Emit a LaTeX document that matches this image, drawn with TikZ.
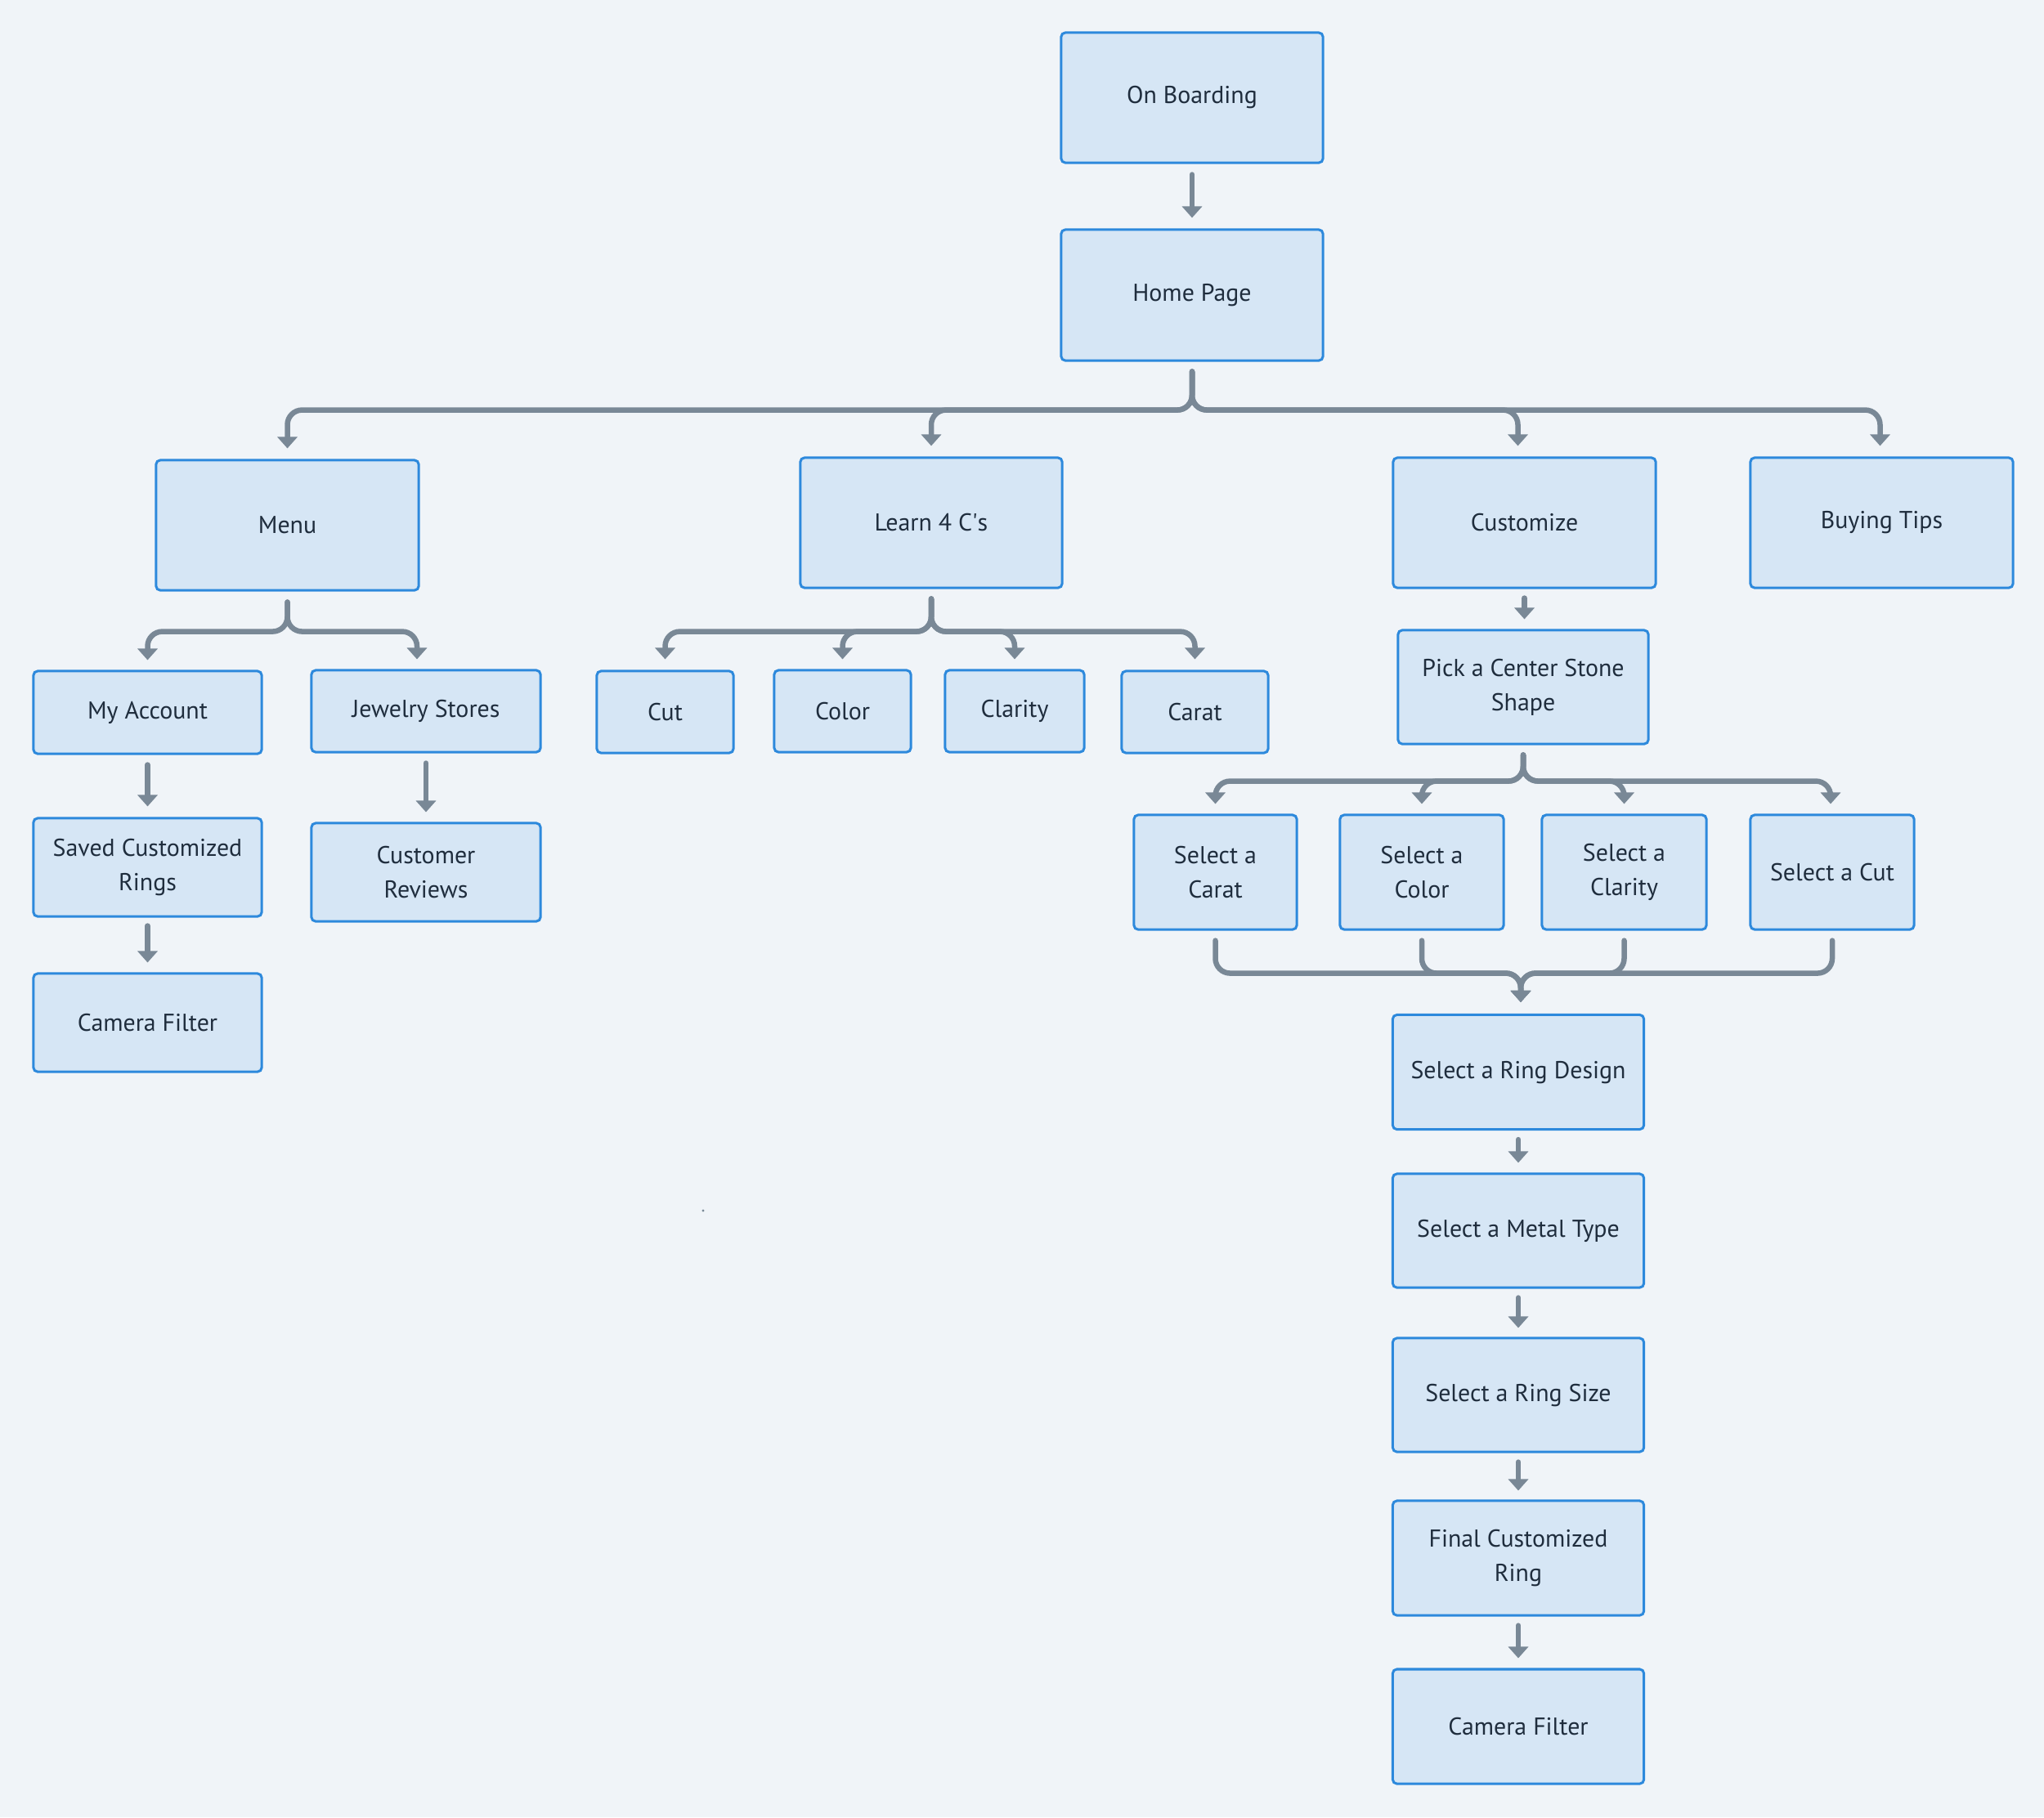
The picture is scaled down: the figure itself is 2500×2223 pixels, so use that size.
\documentclass[tikz,border=0pt]{standalone}
\usepackage{fontspec}
\setmainfont{PT Sans}
\usetikzlibrary{arrows.meta,calc}
\definecolor{bgc}{HTML}{F0F4F8}
\definecolor{boxfill}{HTML}{D6E6F5}
\definecolor{boxline}{HTML}{2D89DC}
\definecolor{conncol}{HTML}{798896}
\definecolor{txtcol}{HTML}{1F2D3D}
\tikzset{
  box/.style={draw=boxline, fill=boxfill, line width=0.03cm, rounded corners=0.05cm,
    inner sep=0pt, align=center, text=txtcol,
    font=\fontsize{8.5}{12}\selectfont},
  arr/.style={draw=conncol, line width=0.065cm, line cap=round,
    -{Triangle[length=0.14cm,width=0.24cm]}},
  br/.style={arr, rounded corners=0.18cm},
}
\begin{document}
\begin{tikzpicture}[x=0.01cm,y=-0.01cm]
\fill[bgc] (0,0) rectangle (2500,2223);
\useasboundingbox (0,0) rectangle (2500,2223);
% top
\node[box, minimum width=3.2cm, minimum height=1.59cm] (onb) at (1458,119.5) {On Boarding};
\node[box, minimum width=3.2cm, minimum height=1.6cm] (home) at (1458,361) {Home Page};
% level 2
\node[box, minimum width=3.21cm, minimum height=1.59cm] (menu) at (351.5,642.5) {Menu};
\node[box, minimum width=3.2cm, minimum height=1.59cm] (learn) at (1139,639.5) {Learn 4 C\textquotesingle s};
\node[box, minimum width=3.21cm, minimum height=1.59cm] (cust) at (1864.5,639.5) {Customize};
\node[box, minimum width=3.21cm, minimum height=1.59cm] (tips) at (2301.5,639.5) {Buying Tips};
% menu subtree
\node[box, minimum width=2.79cm, minimum height=1.01cm] (myacc) at (180.5,871.5) {My Account};
\node[box, minimum width=2.8cm, minimum height=1.0cm] (jewel) at (521,870) {Jewelry Stores};
\node[box, minimum width=2.79cm, minimum height=1.2cm] (saved) at (180.5,1061) {Saved Customized\\Rings};
\node[box, minimum width=2.8cm, minimum height=1.2cm] (reviews) at (521,1067) {Customer\\Reviews};
\node[box, minimum width=2.79cm, minimum height=1.2cm] (camA) at (180.5,1251) {Camera Filter};
% learn subtree
\node[box, minimum width=1.67cm, minimum height=1.0cm] (cut) at (813.5,871) {Cut};
\node[box, minimum width=1.67cm, minimum height=1.0cm] (color) at (1030.5,870) {Color};
\node[box, minimum width=1.70cm, minimum height=1.0cm] (clarity) at (1241,870) {Clarity};
\node[box, minimum width=1.79cm, minimum height=1.0cm] (carat) at (1461.5,871) {Carat};
% customize subtree
\node[box, minimum width=3.06cm, minimum height=1.39cm] (pick) at (1863,840.5) {Pick a Center Stone\\Shape};
\node[box, minimum width=1.99cm, minimum height=1.4cm] (scarat) at (1486.5,1067) {Select a\\Carat};
\node[box, minimum width=2.0cm, minimum height=1.4cm] (scolor) at (1739,1067) {Select a\\Color};
\node[box, minimum width=2.01cm, minimum height=1.4cm] (sclarity) at (1986.5,1067) {Select a\\Clarity};
\node[box, minimum width=2.0cm, minimum height=1.4cm] (scut) at (2241,1067) {Select a Cut};
\node[box, minimum width=3.07cm, minimum height=1.4cm] (ring) at (1857,1311.5) {Select a Ring Design};
\node[box, minimum width=3.07cm, minimum height=1.39cm] (metal) at (1857,1505.5) {Select a Metal Type};
\node[box, minimum width=3.07cm, minimum height=1.39cm] (size) at (1857,1706.5) {Select a Ring Size};
\node[box, minimum width=3.07cm, minimum height=1.4cm] (final) at (1857,1906) {Final Customized\\Ring};
\node[box, minimum width=3.07cm, minimum height=1.4cm] (camB) at (1857,2112) {Camera Filter};
% straight arrows
\draw[arr] ($(onb.south)+(0,13)$) -- ($(home.north)+(0,-13)$);
\draw[arr] ($(myacc.south)+(0,12)$) -- ($(saved.north)+(0,-13)$);
\draw[arr] ($(saved.south)+(0,10)$) -- ($(camA.north)+(0,-12)$);
\draw[arr] ($(jewel.south)+(0,12)$) -- ($(reviews.north)+(0,-12)$);
\draw[arr] ($(cust.south)+(0,11)$) -- ($(cust.south |- pick.north)+(0,-12)$);
\draw[arr] ($(ring.south)+(0,11)$) -- ($(metal.north)+(0,-12)$);
\draw[arr] ($(metal.south)+(0,11)$) -- ($(size.north)+(0,-11)$);
\draw[arr] ($(size.south)+(0,11)$) -- ($(final.north)+(0,-11)$);
\draw[arr] ($(final.south)+(0,11)$) -- ($(camB.north)+(0,-12)$);
% home branches
\draw[br] ($(home.south)+(0,12)$) -- ++(0,47) -| ($(menu.north)+(0,-13)$);
\draw[br] ($(home.south)+(0,12)$) -- ++(0,47) -| ($(learn.north)+(0,-13)$);
\draw[br] ($(home.south)+(0,12)$) -- ++(0,47) -| ($(cust.north)+(-8,-13)$);
\draw[br] ($(home.south)+(0,12)$) -- ++(0,47) -| ($(tips.north)+(-2,-13)$);
% menu branches
\draw[br] ($(menu.south)+(0,13)$) -- ++(0,36) -| ($(myacc.north)+(0,-12)$);
\draw[br] ($(menu.south)+(0,13)$) -- ++(0,36) -| ($(jewel.north)+(-11,-12)$);
% learn branches
\draw[br] ($(learn.south)+(0,12)$) -- ++(0,40) -| ($(cut.north)+(0,-13)$);
\draw[br] ($(learn.south)+(0,12)$) -- ++(0,40) -| ($(color.north)+(0,-12)$);
\draw[br] ($(learn.south)+(0,12)$) -- ++(0,40) -| ($(clarity.north)+(0,-12)$);
\draw[br] ($(learn.south)+(0,12)$) -- ++(0,40) -| ($(carat.north)+(0,-13)$);
% pick branches
\draw[br] ($(pick.south)+(0,12)$) -- ++(0,32) -| ($(scarat.north)+(0,-12)$);
\draw[br] ($(pick.south)+(0,12)$) -- ++(0,32) -| ($(scolor.north)+(0,-12)$);
\draw[br] ($(pick.south)+(0,12)$) -- ++(0,32) -| ($(sclarity.north)+(0,-12)$);
\draw[br] ($(pick.south)+(0,12)$) -- ++(0,32) -| ($(scut.north)+(-2,-12)$);
% merge into ring design
\draw[br] ($(scarat.south)+(0,12)$) -- ++(0,40) -| ($(ring.north)+(3,-14)$);
\draw[br] ($(scolor.south)+(0,12)$) -- ++(0,40) -| ($(ring.north)+(3,-14)$);
\draw[br] ($(sclarity.south)+(0,12)$) -- ++(0,40) -| ($(ring.north)+(3,-14)$);
\draw[br] ($(scut.south)+(0,12)$) -- ++(0,40) -| ($(ring.north)+(3,-14)$);
% stray dot
\fill[conncol] (860,1481) circle (1.6);
\end{tikzpicture}
\end{document}
